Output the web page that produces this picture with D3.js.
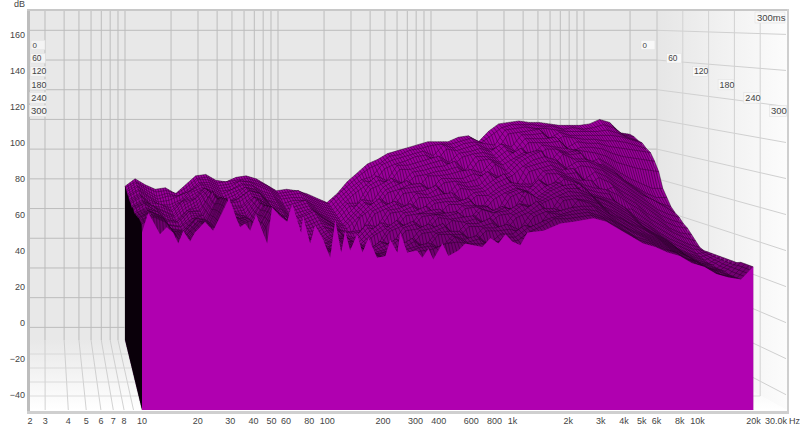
<!DOCTYPE html>
<html><head><meta charset="utf-8">
<style>html,body{margin:0;padding:0;background:#fff}svg{display:block}text{font-family:"Liberation Sans",Arial,sans-serif}</style>
<script src="https://cdn.jsdelivr.net/npm/d3@7"></script></head><body><div id="chart"></div>
<script>
const dbTicks=[160,140,120,100,80,60,40,20,0,-20,-40];
const freqTicks=[3,4,5,6,7,8,9,10,20,30,40,50,60,70,80,90,100,200,300,400,500,600,700,800,900,1000,2000,3000,4000,5000,6000,7000,8000,9000,10000,20000];
const freqLabels=[[3,"3"],[4,"4"],[5,"5"],[6,"6"],[7,"7"],[8,"8"],[10,"10"],[20,"20"],[30,"30"],[40,"40"],[50,"50"],[60,"60"],[80,"80"],[100,"100"],[200,"200"],[300,"300"],[400,"400"],[600,"600"],[800,"800"],[1000,"1k"],[2000,"2k"],[3000,"3k"],[4000,"4k"],[5000,"5k"],[6000,"6k"],[8000,"8k"],[10000,"10k"],[20000,"20k"]];
const timeLabels=[0,60,120,180,240,300];
const sliceFreqs=[10,11.64,13.55,15.78,18.37,21.38,24.89,28.97,33.73,39.26,45.7,53.2,61.9,72.1,83.9,97.7,113.8,132.4,154.2,179.5,208.9,243.2,283.1,329.6,383.7,446.7,519.9,605.3,704.7,820.4,955,1112,1294,1507,1754,2042,2377,2767,3221,3750,4365,5082,5916,6887,8017,9333,10864,12647,14723,17140,19953];
const frontFreqs=[10,10.8,11.5,12.5,13.6,14.7,15.7,16.7,18.2,19.3,21.9,24.2,27.1,29.5,32.6,33.9,36,38.4,41.3,47.4,50.4,55.7,60.8,64.7,68.8,72.3,74.1,80.9,86.1,95.1,103.8,110.5,119,125,133,145,155,167,186,206,219,239,248,270,306,326,352,374,419,451,511,557,615,689,760,840,916,1000,1104,1205,1472,1816,2138,2742,3221,3741,4365,5082,5916,6887,8017,9333,10864,12647,14723,17140,19953];
const sliceTimes=[0,10,20,30,40,50,60,70,80,90,100,110,120,130,140,150,160,170,180,190,200,210,220,230,240,250,260,270,280,290,300];
const s000=[55,60,56,53,54,50,56,62,63,59,58,61,62,60,56,52,53,52,50,47,44,50,58,64,70,73,77,79,81,83,85,85,85,88,89,85,92,97,98,99,98,98,97,96,96,96,97,100,98,91,90];
const s010=[55,59,55,52,53,51,55,61,62,58,59,60,61,59,56,51,52,53,49,46,44,51,57,63,68,71,76,77,80,81,83,84,84,86,88,85,90,95,97,97,97,96,96,94,95,94,95,97,95,90,89];
const s020=[54,59,54,50,52,50,54,61,61,57,58,60,60,58,55,50,51,52,48,45,43,50,56,61,63,71,74,76,78,80,77,84,82,85,86,85,84,94,95,96,95,95,94,93,93,93,93,94,92,89,87];
const s030=[54,58,53,49,51,51,54,60,60,56,57,61,60,57,54,49,50,50,47,44,42,49,55,61,60,69,72,74,77,78,74,82,81,83,85,82,82,92,93,94,95,89,93,91,91,91,91,91,90,88,86];
const s040=[53,58,52,48,49,52,55,60,59,55,56,60,59,55,53,47,49,49,46,43,41,48,54,59,65,62,72,72,74,76,78,74,80,81,83,81,86,84,92,92,93,87,91,90,89,89,88,88,87,85,83];
const s050=[53,57,52,47,47,50,56,60,58,54,57,60,59,54,52,46,48,50,45,42,40,48,48,59,63,61,70,70,72,74,76,72,78,80,81,79,85,82,90,90,90,91,84,88,87,87,85,84,83,82,81];
const s060=[53,57,51,48,46,50,56,59,57,53,56,59,58,53,51,45,47,49,44,41,39,47,47,58,61,65,62,69,70,72,73,76,70,79,79,78,83,80,88,88,88,89,82,85,85,84,81,79,78,77,76];
const s070=[52,56,50,49,45,51,55,59,56,52,55,60,58,52,50,44,46,48,43,40,38,45,52,51,60,64,61,67,68,70,71,73,68,77,78,76,81,85,80,87,86,85,84,83,82,80,76,74,72,71,70];
const s080=[52,56,49,48,45,52,54,60,56,51,54,60,57,52,49,43,45,47,43,39,37,44,51,50,59,62,65,60,68,68,69,71,72,70,77,75,79,83,78,85,85,83,84,76,79,75,70,66,63,60,60];
const s090=[52,56,50,47,44,52,54,61,55,52,54,59,58,51,48,42,44,47,42,38,37,44,51,49,58,60,63,64,60,67,67,67,70,68,76,72,79,83,85,77,84,82,83,75,76,72,66,62,58,55,55];
const s100=[52,56,50,47,44,51,55,61,55,52,55,60,58,50,48,42,44,47,42,38,36,43,50,55,51,61,62,63,59,65,66,65,67,72,69,71,78,82,85,75,83,80,80,78,74,70,65,60,55,52,50];
const s110=[51,55,51,46,44,50,54,61,55,53,54,59,57,50,47,41,43,46,42,38,31,44,49,54,50,59,60,61,64,58,65,63,64,71,67,70,76,80,82,80,75,79,79,76,72,68,63,58,55,51,47];
const s120=[51,55,52,46,43,49,53,62,55,52,52,58,56,49,46,41,42,45,41,37,36,37,49,52,55,52,60,59,63,56,63,62,63,68,72,63,76,78,80,78,73,77,76,74,69,65,60,55,50,47,45];
const s130=[52,55,52,45,43,50,52,62,54,51,52,58,55,48,46,40,41,44,41,37,36,37,48,51,54,50,58,58,60,61,56,61,62,67,70,62,74,76,78,75,76,69,74,71,66,62,57,52,47,44,42];
const s140=[52,55,51,45,44,50,51,61,54,50,51,59,55,47,45,39,40,43,41,36,34,42,41,51,52,55,51,57,58,59,54,60,60,65,68,67,67,75,76,73,74,66,71,68,63,59,54,49,44,41,40];
const s150=[52,56,51,45,44,51,51,63,53,50,50,58,54,47,44,39,39,42,40,35,34,41,40,50,51,54,50,56,57,57,59,52,60,64,67,66,66,74,74,72,70,70,63,66,60,56,50,46,41,38,37];
const s160=[51,56,52,44,43,51,50,64,54,50,49,59,54,47,43,38,38,42,40,35,33,40,45,43,51,52,55,49,56,56,58,51,59,63,66,64,71,67,73,71,68,66,65,62,57,53,47,43,39,36,34];
const s170=[51,55,52,44,43,50,50,63,55,51,49,58,53,47,42,37,37,41,41,35,33,39,44,42,50,51,53,54,49,56,56,56,52,63,66,64,70,66,72,70,66,64,63,54,54,49,44,40,36,33,31];
const s180=[52,55,53,45,44,49,51,62,54,51,48,58,54,46,41,37,36,41,41,34,33,39,43,48,43,52,52,53,48,55,56,56,51,62,65,63,68,71,65,70,64,62,60,56,50,46,41,37,34,31,30];
const s190=[52,55,52,44,43,50,50,63,54,50,48,59,53,46,41,36,36,40,40,34,34,33,43,47,43,51,52,53,54,48,56,54,57,55,66,62,67,71,65,69,63,61,58,54,48,44,39,35,32,29,30];
const s200=[52,55,52,44,43,50,50,62,54,50,48,58,53,46,40,36,36,40,40,34,34,33,43,46,49,45,53,52,54,48,56,54,57,55,66,62,67,70,71,63,63,60,56,52,46,42,38,33,30,28,30];
const s210=[53,56,53,45,44,51,50,63,53,51,48,59,54,47,41,37,36,40,40,35,33,38,36,46,48,44,52,51,52,53,49,55,56,60,59,62,66,69,69,66,61,58,54,50,45,41,37,32,29,27,30];
const s220=[53,56,53,45,44,52,51,64,53,52,48,60,54,47,41,37,37,40,41,35,34,38,36,45,46,49,45,51,50,52,48,54,55,60,58,62,65,68,67,65,59,56,52,48,44,40,36,31,28,26,30];
const s230=[53,57,54,45,45,53,51,65,53,53,49,60,55,48,42,37,37,41,41,35,34,37,41,38,46,47,50,43,50,50,53,47,55,58,63,55,65,66,66,63,58,54,50,47,43,39,35,30,27,26,30];
const s240=[54,57,54,46,45,52,51,66,53,54,49,61,55,49,42,38,37,41,40,36,34,36,41,37,45,46,49,42,49,49,51,46,54,57,62,55,64,65,64,62,56,53,49,45,42,38,34,30,27,25,30];
const s250=[54,58,54,46,45,53,52,66,53,55,49,61,56,49,43,38,38,41,41,36,34,36,39,43,38,46,47,47,42,49,49,51,48,57,60,60,57,65,63,60,55,51,47,44,41,37,33,29,26,25,30];
const s260=[54,57,55,46,46,53,52,67,53,55,50,62,56,50,44,38,38,41,41,36,35,36,38,42,37,46,46,46,41,48,48,49,47,56,59,59,61,62,62,58,53,49,46,43,40,36,33,29,26,25,30];
const s270=[54,58,55,46,46,54,52,67,53,56,49,62,56,50,44,39,38,41,41,37,35,36,38,40,42,39,46,44,46,41,47,47,52,50,59,58,60,61,60,56,52,48,45,42,39,35,32,28,26,24,31];
const s280=[54,58,55,46,46,54,52,68,53,56,49,62,56,51,45,39,38,41,41,37,35,36,37,40,41,39,46,43,45,40,46,46,51,54,57,58,59,60,58,55,50,46,44,41,38,34,32,28,25,24,31];
const s290=[54,58,55,46,46,54,52,68,53,56,49,62,56,51,45,39,38,41,41,37,35,36,37,39,40,43,44,43,43,44,44,45,50,53,57,57,58,59,57,53,49,45,43,40,38,34,31,27,25,24,31];
const s300=[50,61,56,49,53,50,44,51,45,50,56,51,61,69,57,53,55,51,60,44,64,59,56,66,57,50,59,44,54,46,36,57,39,51,40,49,39,47,36,37,46,39,50,39,40,36,41,35,44,37,40,44,43,42,47,44,49,45,43,50,51,55,56,58,56,52,48,44,42,39,37,33,31,27,25,24,31];
const slices=[s000,s010,s020,s030,s040,s050,s060,s070,s080,s090,s100,s110,s120,s130,s140,s150,s160,s170,s180,s190,s200,s210,s220,s230,s240,s250,s260,s270,s280,s290,s300];

const W=800,H=427,DB=[-48.5,173],TMAX=300,FR=[10,30000];
const L=30,R=787,T=11,B=410;
const svg=d3.select("#chart").append("svg").attr("width",W).attr("height",H).attr("viewBox",[0,0,W,H]);
const defs=svg.append("defs");
const gf=defs.append("linearGradient").attr("id","gf").attr("x1",0).attr("x2",0).attr("y1",0).attr("y2",1);
gf.append("stop").attr("offset",0).attr("stop-color","#e8e8e8");gf.append("stop").attr("offset",1).attr("stop-color","#ffffff");
const gr=defs.append("linearGradient").attr("id","gr");
gr.append("stop").attr("offset",0).attr("stop-color","#e6e6e6");gr.append("stop").attr("offset",1).attr("stop-color","#fcfcfc");
defs.append("clipPath").attr("id","pl").append("rect").attr("x",L).attr("y",T).attr("width",R-L).attr("height",B-T);

const xBack=d3.scaleLog(FR,[125,657]);
const xFront=d3.scaleLog(FR,[142,786]);
const yBack=d3.scaleLinear(DB,[340,T]);
const yFront=d3.scaleLinear(DB,[B,T]);
const tz=d3.scaleLinear([0,TMAX],[0,1]);
const px=(f,t)=>d3.interpolateNumber(xBack(f),xFront(f))(tz(t));
const py=(v,t)=>d3.interpolateNumber(yBack(v),yFront(v))(tz(t));
const line=d3.line().x(d=>d[0]).y(d=>d[1]).curve(d3.curveLinear);
const backR=xBack(FR[1]),frontR=xFront(FR[1]);

const walls=svg.append("g").attr("clip-path","url(#pl)");
walls.append("rect").attr("x",L).attr("y",T).attr("width",backR-L).attr("height",yBack(DB[0])-T).attr("fill","#e8e8e8");
walls.append("path").attr("d",line([[backR,T],[R,T],[R,B],[backR,yBack(DB[0])]])+"Z").attr("fill","url(#gr)");
walls.append("path").attr("d",line([[L,yBack(DB[0])],[backR,yBack(DB[0])],[R,B],[L,B]])+"Z").attr("fill","url(#gf)");
const gridCol="#bcbcbc";
walls.selectAll(".bv").data(freqTicks).join("line").attr("x1",d=>xBack(d)).attr("x2",d=>xBack(d)).attr("y1",T).attr("y2",yBack(DB[0])).attr("stroke",gridCol);
walls.selectAll(".bh").data(dbTicks).join("line").attr("x1",L).attr("x2",backR).attr("y1",d=>yBack(d)).attr("y2",d=>yBack(d)).attr("stroke",gridCol);
walls.selectAll(".fv").data(freqTicks).join("line").attr("x1",d=>xBack(d)).attr("x2",d=>xFront(d)).attr("y1",yBack(DB[0])).attr("y2",B).attr("stroke","#c6c6c6").attr("stroke-width",.8);
walls.selectAll(".fh").data(timeLabels.slice(1,5)).join("line").attr("x1",L).attr("x2",t=>px(FR[1],t)).attr("y1",t=>py(DB[0],t)).attr("y2",t=>py(DB[0],t)).attr("stroke","#d4d4d4").attr("stroke-width",.8);
walls.selectAll(".rh").data(dbTicks).join("line").attr("x1",backR).attr("x2",frontR).attr("y1",d=>yBack(d)).attr("y2",d=>yFront(d)).attr("stroke","#d0d0d0");
walls.selectAll(".rv").data(timeLabels.slice(0,5)).join("line").attr("x1",t=>px(FR[1],t)).attr("x2",t=>px(FR[1],t)).attr("y1",T).attr("y2",t=>py(DB[0],t)).attr("stroke",(t)=>t===0?"#c4c4c4":"#d2d2d2");

const frame=svg.append("g");
frame.append("rect").attr("x",27).attr("y",9).attr("width",3).attr("height",405).attr("fill","#bdbdbd");
frame.append("rect").attr("x",27).attr("y",9).attr("width",762).attr("height",2).attr("fill","#c8c8c8");
frame.append("rect").attr("x",27).attr("y",411).attr("width",762).attr("height",3).attr("fill","#cfcfcf");
frame.append("rect").attr("x",787).attr("y",9).attr("width",2).attr("height",405).attr("fill","#cfcfcf");

// waterfall: painter's order, back to front
const wf=svg.append("g");
const freqsOf=k=>k===sliceTimes.length-1?frontFreqs:sliceFreqs;
const lf=d3.scaleLog([1,10],[0,1]);
function valueAt(k,f){
  const fr=freqsOf(k),v=slices[k];
  const j=Math.min(fr.length-2,Math.max(0,d3.bisectRight(fr,f)-1));
  const u=(lf(f)-lf(fr[j]))/(lf(fr[j+1])-lf(fr[j]));
  return v[j]+(v[j+1]-v[j])*u;
}
const MESH=4;
const meshF=[];
sliceFreqs.slice(0,-1).forEach((f,i)=>{for(let m=0;m<MESH;m++){meshF.push(Math.exp(Math.log(f)+(Math.log(sliceFreqs[i+1])-Math.log(f))*m/MESH));}});
meshF.push(sliceFreqs[sliceFreqs.length-1]);
const fillC=d3.scaleLinear([0,150,290],["#a000a0","#8e008e","#6e006e"]);
sliceTimes.forEach((t,k)=>{
  const fr=freqsOf(k);
  const top=fr.map((f,i)=>[px(f,t),py(slices[k][i],t)]);
  const last=k===sliceTimes.length-1;
  const fl=py(DB[0],t);
  if(k>0){
    const t0=sliceTimes[k-1];
    const endF=fr[fr.length-1];
    wf.append("path").attr("d",line([[px(endF,t0),py(valueAt(k-1,endF),t0)],[px(endF,t),py(valueAt(k,endF),t)],[px(endF,t),fl],[px(endF,t0),py(DB[0],t0)]])+"Z").attr("fill",fillC(t0));
    const d=meshF.map(f=>`M${px(f,t0)},${py(valueAt(k-1,f),t0)}L${px(f,t)},${py(valueAt(k,f),t)}`).join("");
    wf.append("path").attr("d",d).attr("fill","none").attr("stroke","#1e001e").attr("stroke-width",.55).attr("stroke-opacity",.85);
  }
  wf.append("path").attr("d",line([[top[0][0],fl],...top,[top[top.length-1][0],fl]])+"Z").attr("fill",last?"#b000b0":fillC(t));
  if(!last) wf.append("path").attr("d",line(top)).attr("fill","none").attr("stroke","#1e001e").attr("stroke-width",.55).attr("stroke-opacity",.8);
});
const side=sliceTimes.map((t,k)=>[px(sliceFreqs[0],t),py(slices[k][0],t)]);
wf.append("path").attr("d",line([...side,[px(sliceFreqs[0],TMAX),py(DB[0],TMAX)],[px(sliceFreqs[0],0),py(DB[0],0)]])+"Z").attr("fill","#0a000a");

const fs=9,tc="#444";
const yAxis=svg.append("g").attr("transform","translate(25,0)").call(d3.axisLeft(yFront).tickValues(dbTicks).tickSize(0).tickPadding(0));
yAxis.select(".domain").remove();
yAxis.selectAll("text").attr("font-family",'"Liberation Sans"').attr("font-size",fs).attr("fill",tc);
svg.append("text").attr("x",25).attr("y",7).attr("text-anchor","end").attr("font-size",fs).attr("fill",tc).text("dB");
const xa=svg.append("g");
xa.selectAll("text").data(freqLabels).join("text").attr("x",d=>xFront(d[0])).attr("y",424).attr("text-anchor","middle").attr("font-size",fs).attr("fill",tc).text(d=>d[1]);
xa.append("text").attr("x",30).attr("y",424).attr("text-anchor","middle").attr("font-size",fs).attr("fill",tc).text("2");
xa.append("text").attr("x",787).attr("y",424).attr("text-anchor","end").attr("font-size",fs).attr("fill",tc).text("30.0k");
xa.append("text").attr("x",800).attr("y",424).attr("text-anchor","end").attr("font-size",fs).attr("fill",tc).text("Hz");

const labFont=d3.scaleLinear([0,TMAX],[8,9.5]);
const labY=d3.scaleLinear([0,TMAX],[45,111]);
const labL=d3.scaleLinear([0,TMAX],[38,38]);
const labR=d3.scaleLinear([0,TMAX],[648,778]);
const labW=d3.scaleLinear([0,TMAX],[14,17]);
const labH=d3.scaleLinear([0,TMAX],[9.5,11]);
const tl=svg.append("g");
[[labL,"#f4f4f4"],[labR,"#f8f8f8"]].forEach(([sc,bg])=>{
  timeLabels.forEach(t=>{
    const w=labW(t),h=labH(t);
    tl.append("rect").attr("x",sc(t)-w/2).attr("y",labY(t)-h/2).attr("width",w).attr("height",h).attr("fill",bg).attr("stroke","#e2e2e2").attr("stroke-width",.6);
    tl.append("text").attr("x",sc(t)-w/2+1.5).attr("y",labY(t)+labFont(t)*.36).attr("font-size",labFont(t)).attr("fill",tc).text(t);
  });
});
tl.append("rect").attr("x",755).attr("y",12).attr("width",30).attr("height",11).attr("fill","#f8f8f8").attr("stroke","#e2e2e2").attr("stroke-width",.6);
tl.append("text").attr("x",757).attr("y",21).attr("font-size",9.5).attr("fill",tc).text("300ms");
</script></body></html>
